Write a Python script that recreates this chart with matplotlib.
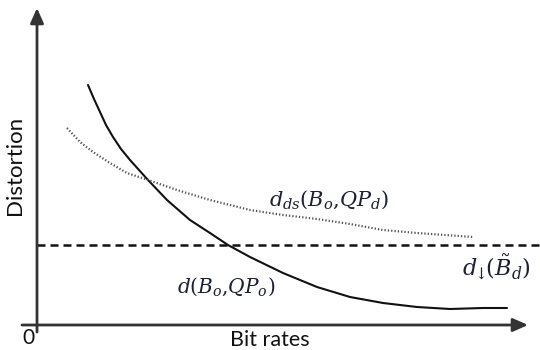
import matplotlib
matplotlib.use("Agg")
import matplotlib.pyplot as plt

# ---- data (x = bit rate, y = distortion, arbitrary units) ----
solid_x = [51, 57, 63, 69, 76, 84, 93, 102, 111, 130, 153, 173, 191, 213, 246, 280, 313, 346, 380, 413, 446, 470]
solid_y = [240, 226, 213, 200, 188, 176, 165, 155, 145, 125, 105, 92, 80, 68, 52, 38, 28, 22, 18, 16, 17, 17]

dotted_x = [30, 43, 56, 73, 90, 111, 140, 173, 213, 246, 280, 313, 346, 380, 436]
dotted_y = [197, 183, 173, 162, 152, 145, 135, 125, 115, 110, 106, 101, 95, 92, 88]

threshold_y = 80
threshold_x = [0, 503]

label_solid = r"$d(B_o{,}QP_o)$"
label_dotted = r"$d_{ds}(B_o{,}QP_d)$"
label_thresh = r"$d_{\!\!\downarrow\!\!}(\tilde{B}_d)$"
xlabel = "Bit rates"
ylabel = "Distortion"

# ---- figure ----
plt.rcParams["mathtext.fontset"] = "dejavuserif"
fig = plt.figure(figsize=(5.4, 3.5), dpi=100)
ax = fig.add_axes([0, 0, 1, 1])
ax.set_xlim(-37, 503)
ax.set_ylim(-25, 325)
ax.axis("off")

axis_col = "#333333"
# axes with arrows
ax.annotate("", xy=(0, 317), xytext=(0, -7),
            arrowprops=dict(arrowstyle="-|>,head_length=0.9,head_width=0.4",
                            color=axis_col, lw=2.0, shrinkA=0, shrinkB=0))
ax.annotate("", xy=(491, 0), xytext=(-15, 0),
            arrowprops=dict(arrowstyle="-|>,head_length=0.9,head_width=0.4",
                            color=axis_col, lw=2.0, shrinkA=0, shrinkB=0))

ax.plot(solid_x, solid_y, color="#111111", lw=1.5, solid_capstyle="round",
        solid_joinstyle="round")
ax.plot(dotted_x, dotted_y, color="#555555", lw=1.6, linestyle=(0, (0.6, 0.9)))
ax.plot(threshold_x, [threshold_y, threshold_y], color="#111111", lw=1.8,
        linestyle=(0, (3.2, 2.0)))

txt_col = "#1c2033"
ax.text(292, 125, label_dotted, fontsize=15, color=txt_col, ha="center", va="center")
ax.text(189, 38, label_solid, fontsize=14.5, color=txt_col, ha="center", va="center")
ax.text(459, 58, label_thresh, fontsize=16, color=txt_col, ha="center", va="center")

ax.text(-9, -13, "0", fontsize=15, family="Lato", ha="center", va="center", color="#111111")
ax.text(233, -15, xlabel, fontsize=15.5, family="Lato", ha="center", va="center", color="#111111")
ax.text(-22, 160, ylabel, fontsize=16, family="Lato", ha="center", va="center",
        rotation=90, color="#111111")

fig.savefig("out.png", dpi=100)
